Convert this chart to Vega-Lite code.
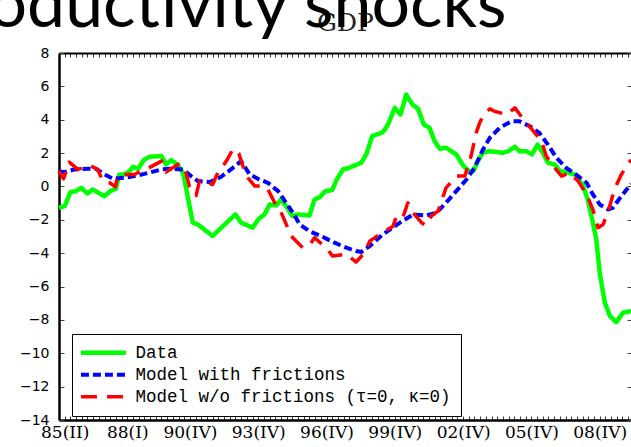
{
  "$schema": "https://vega.github.io/schema/vega-lite/v6.json",
  "autosize": {"type": "none"},
  "padding": {"left": 59, "top": 53, "right": 0, "bottom": 27},
  "width": 572,
  "height": 367,
  "background": "white",
  "title": {"text": "Productivity shocks", "font": "Lato", "fontSize": 68, "fontWeight": "normal", "color": "black", "anchor": "start", "frame": "group", "dx": -134, "dy": 30, "offset": 0},
  "config": {"view": {"stroke": null}, "axis": {"grid": false}},
  "data": {"values": [
    {"s":"Data","t":0,"v":-1.28},{"s":"Data","t":1,"v":-1.18},{"s":"Data","t":2,"v":-0.34},{"s":"Data","t":3,"v":-0.28},{"s":"Data","t":3.9,"v":-0.08},{"s":"Data","t":5,"v":-0.42},{"s":"Data","t":5.9,"v":-0.18},{"s":"Data","t":6.9,"v":-0.38},{"s":"Data","t":8,"v":-0.58},{"s":"Data","t":9,"v":-0.28},{"s":"Data","t":10,"v":-0.14},{"s":"Data","t":10.6,"v":0.72},{"s":"Data","t":11.5,"v":0.72},{"s":"Data","t":12.4,"v":0.92},{"s":"Data","t":13,"v":1.18},{"s":"Data","t":13.9,"v":1.06},{"s":"Data","t":14.9,"v":1.58},{"s":"Data","t":15.9,"v":1.78},{"s":"Data","t":18,"v":1.82},{"s":"Data","t":18.8,"v":1.32},{"s":"Data","t":19.7,"v":1.58},{"s":"Data","t":20.8,"v":1.32},{"s":"Data","t":21.8,"v":0.82},{"s":"Data","t":22.6,"v":-0.58},{"s":"Data","t":23.5,"v":-2.17},{"s":"Data","t":24.4,"v":-2.28},{"s":"Data","t":27,"v":-2.97},{"s":"Data","t":29.1,"v":-2.28},{"s":"Data","t":31,"v":-1.68},{"s":"Data","t":32,"v":-2.17},{"s":"Data","t":34,"v":-2.47},{"s":"Data","t":35.1,"v":-1.94},{"s":"Data","t":36.1,"v":-1.68},{"s":"Data","t":37,"v":-1.08},{"s":"Data","t":38.2,"v":-1.14},{"s":"Data","t":39,"v":-0.78},{"s":"Data","t":40,"v":-1.22},{"s":"Data","t":41,"v":-1.78},{"s":"Data","t":42,"v":-1.68},{"s":"Data","t":44,"v":-1.74},{"s":"Data","t":44.9,"v":-0.78},{"s":"Data","t":45.9,"v":-0.62},{"s":"Data","t":46.8,"v":-0.28},{"s":"Data","t":48,"v":-0.22},{"s":"Data","t":48.8,"v":0.42},{"s":"Data","t":49.9,"v":1.02},{"s":"Data","t":51,"v":1.12},{"s":"Data","t":53.1,"v":1.42},{"s":"Data","t":54,"v":1.92},{"s":"Data","t":55,"v":3.01},{"s":"Data","t":56.9,"v":3.25},{"s":"Data","t":57.8,"v":3.71},{"s":"Data","t":59,"v":4.71},{"s":"Data","t":60,"v":4.31},{"s":"Data","t":61,"v":5.51},{"s":"Data","t":62.1,"v":4.91},{"s":"Data","t":63.1,"v":4.65},{"s":"Data","t":64.1,"v":3.71},{"s":"Data","t":65.1,"v":3.51},{"s":"Data","t":66,"v":2.71},{"s":"Data","t":66.9,"v":2.26},{"s":"Data","t":68,"v":2.32},{"s":"Data","t":69.8,"v":1.92},{"s":"Data","t":71,"v":1.26},{"s":"Data","t":72,"v":0.92},{"s":"Data","t":72.8,"v":0.92},{"s":"Data","t":73.6,"v":1.52},{"s":"Data","t":74.5,"v":2.05},{"s":"Data","t":75.7,"v":2.11},{"s":"Data","t":78,"v":2.02},{"s":"Data","t":78.9,"v":2.11},{"s":"Data","t":80.1,"v":2.38},{"s":"Data","t":80.9,"v":2.11},{"s":"Data","t":82.1,"v":2.11},{"s":"Data","t":83.1,"v":1.92},{"s":"Data","t":84.1,"v":2.51},{"s":"Data","t":85,"v":2.02},{"s":"Data","t":85.9,"v":1.42},{"s":"Data","t":87.1,"v":1.32},{"s":"Data","t":88,"v":0.92},{"s":"Data","t":89.7,"v":0.82},{"s":"Data","t":90.9,"v":0.66},{"s":"Data","t":92.1,"v":0.02},{"s":"Data","t":92.9,"v":-0.78},{"s":"Data","t":93.8,"v":-2.17},{"s":"Data","t":94.4,"v":-3.17},{"s":"Data","t":95,"v":-5.17},{"s":"Data","t":95.9,"v":-6.96},{"s":"Data","t":96.8,"v":-7.77},{"s":"Data","t":97.9,"v":-8.13},{"s":"Data","t":99.1,"v":-7.57},{"s":"Data","t":100.5,"v":-7.47},
    {"s":"Model with frictions","t":0,"v":0.92},{"s":"Model with frictions","t":1,"v":0.86},{"s":"Model with frictions","t":2.7,"v":1.02},{"s":"Model with frictions","t":5.1,"v":1.06},{"s":"Model with frictions","t":6.5,"v":1.06},{"s":"Model with frictions","t":8,"v":0.72},{"s":"Model with frictions","t":9.5,"v":0.46},{"s":"Model with frictions","t":11.5,"v":0.52},{"s":"Model with frictions","t":13.9,"v":0.66},{"s":"Model with frictions","t":16.2,"v":0.86},{"s":"Model with frictions","t":18,"v":1.02},{"s":"Model with frictions","t":19.7,"v":1.06},{"s":"Model with frictions","t":21.8,"v":1.02},{"s":"Model with frictions","t":23.2,"v":0.62},{"s":"Model with frictions","t":24.4,"v":0.32},{"s":"Model with frictions","t":26.5,"v":0.26},{"s":"Model with frictions","t":28.5,"v":0.58},{"s":"Model with frictions","t":30.5,"v":1.1},{"s":"Model with frictions","t":32,"v":1.52},{"s":"Model with frictions","t":33.5,"v":0.72},{"s":"Model with frictions","t":35.2,"v":0.42},{"s":"Model with frictions","t":36.7,"v":0.22},{"s":"Model with frictions","t":38.5,"v":-0.28},{"s":"Model with frictions","t":39.7,"v":-0.88},{"s":"Model with frictions","t":41.1,"v":-1.58},{"s":"Model with frictions","t":42.3,"v":-2.28},{"s":"Model with frictions","t":44,"v":-2.68},{"s":"Model with frictions","t":46,"v":-2.97},{"s":"Model with frictions","t":48.4,"v":-3.37},{"s":"Model with frictions","t":50.5,"v":-3.67},{"s":"Model with frictions","t":52.2,"v":-3.87},{"s":"Model with frictions","t":53.1,"v":-3.93},{"s":"Model with frictions","t":54.6,"v":-3.57},{"s":"Model with frictions","t":56.9,"v":-2.87},{"s":"Model with frictions","t":59.9,"v":-2.17},{"s":"Model with frictions","t":62.2,"v":-1.68},{"s":"Model with frictions","t":64.5,"v":-1.74},{"s":"Model with frictions","t":66.3,"v":-1.58},{"s":"Model with frictions","t":68,"v":-0.98},{"s":"Model with frictions","t":69.8,"v":-0.28},{"s":"Model with frictions","t":71.6,"v":0.42},{"s":"Model with frictions","t":73,"v":1.12},{"s":"Model with frictions","t":74.5,"v":2.22},{"s":"Model with frictions","t":75.7,"v":2.92},{"s":"Model with frictions","t":77.4,"v":3.51},{"s":"Model with frictions","t":79.5,"v":3.91},{"s":"Model with frictions","t":80.9,"v":3.91},{"s":"Model with frictions","t":82.7,"v":3.61},{"s":"Model with frictions","t":84.4,"v":3.21},{"s":"Model with frictions","t":85.9,"v":2.51},{"s":"Model with frictions","t":87.4,"v":1.72},{"s":"Model with frictions","t":89.1,"v":1.12},{"s":"Model with frictions","t":91.2,"v":0.62},{"s":"Model with frictions","t":92.7,"v":0.22},{"s":"Model with frictions","t":93.8,"v":-0.48},{"s":"Model with frictions","t":95,"v":-1.08},{"s":"Model with frictions","t":96.5,"v":-1.38},{"s":"Model with frictions","t":97.3,"v":-1.28},{"s":"Model with frictions","t":98.8,"v":-0.58},{"s":"Model with frictions","t":100.5,"v":0.15},
    {"s":"Model w/o frictions (τ=0, κ=0)","t":0,"v":0.92},{"s":"Model w/o frictions (τ=0, κ=0)","t":0.8,"v":0.46},{"s":"Model w/o frictions (τ=0, κ=0)","t":1.8,"v":1.46},{"s":"Model w/o frictions (τ=0, κ=0)","t":3.3,"v":1.02},{"s":"Model w/o frictions (τ=0, κ=0)","t":5.4,"v":1.26},{"s":"Model w/o frictions (τ=0, κ=0)","t":6.8,"v":1.02},{"s":"Model w/o frictions (τ=0, κ=0)","t":7.7,"v":0.32},{"s":"Model w/o frictions (τ=0, κ=0)","t":8.9,"v":0.22},{"s":"Model w/o frictions (τ=0, κ=0)","t":9.9,"v":-0.02},{"s":"Model w/o frictions (τ=0, κ=0)","t":10.3,"v":0.62},{"s":"Model w/o frictions (τ=0, κ=0)","t":11.8,"v":0.72},{"s":"Model w/o frictions (τ=0, κ=0)","t":13.3,"v":0.72},{"s":"Model w/o frictions (τ=0, κ=0)","t":14.3,"v":0.92},{"s":"Model w/o frictions (τ=0, κ=0)","t":15.3,"v":1.02},{"s":"Model w/o frictions (τ=0, κ=0)","t":18,"v":1.52},{"s":"Model w/o frictions (τ=0, κ=0)","t":18.8,"v":0.86},{"s":"Model w/o frictions (τ=0, κ=0)","t":20.9,"v":1.32},{"s":"Model w/o frictions (τ=0, κ=0)","t":22.1,"v":1.12},{"s":"Model w/o frictions (τ=0, κ=0)","t":22.9,"v":0.02},{"s":"Model w/o frictions (τ=0, κ=0)","t":24.1,"v":-0.54},{"s":"Model w/o frictions (τ=0, κ=0)","t":24.7,"v":0.36},{"s":"Model w/o frictions (τ=0, κ=0)","t":27,"v":0.12},{"s":"Model w/o frictions (τ=0, κ=0)","t":27.9,"v":0.82},{"s":"Model w/o frictions (τ=0, κ=0)","t":29.4,"v":1.52},{"s":"Model w/o frictions (τ=0, κ=0)","t":30.6,"v":2.26},{"s":"Model w/o frictions (τ=0, κ=0)","t":31.6,"v":1.98},{"s":"Model w/o frictions (τ=0, κ=0)","t":32.3,"v":1.22},{"s":"Model w/o frictions (τ=0, κ=0)","t":33.2,"v":0.52},{"s":"Model w/o frictions (τ=0, κ=0)","t":34.4,"v":0.02},{"s":"Model w/o frictions (τ=0, κ=0)","t":36.1,"v":0.02},{"s":"Model w/o frictions (τ=0, κ=0)","t":36.7,"v":-0.18},{"s":"Model w/o frictions (τ=0, κ=0)","t":37.9,"v":-0.98},{"s":"Model w/o frictions (τ=0, κ=0)","t":38.8,"v":-1.38},{"s":"Model w/o frictions (τ=0, κ=0)","t":39.8,"v":-2.17},{"s":"Model w/o frictions (τ=0, κ=0)","t":40.8,"v":-2.97},{"s":"Model w/o frictions (τ=0, κ=0)","t":42.8,"v":-3.67},{"s":"Model w/o frictions (τ=0, κ=0)","t":44,"v":-3.53},{"s":"Model w/o frictions (τ=0, κ=0)","t":44.9,"v":-3.07},{"s":"Model w/o frictions (τ=0, κ=0)","t":46.9,"v":-3.67},{"s":"Model w/o frictions (τ=0, κ=0)","t":48.1,"v":-4.17},{"s":"Model w/o frictions (τ=0, κ=0)","t":50.5,"v":-4.07},{"s":"Model w/o frictions (τ=0, κ=0)","t":52.2,"v":-4.53},{"s":"Model w/o frictions (τ=0, κ=0)","t":53.7,"v":-3.97},{"s":"Model w/o frictions (τ=0, κ=0)","t":54.6,"v":-3.28},{"s":"Model w/o frictions (τ=0, κ=0)","t":56.6,"v":-2.81},{"s":"Model w/o frictions (τ=0, κ=0)","t":58.7,"v":-2.38},{"s":"Model w/o frictions (τ=0, κ=0)","t":59.3,"v":-1.78},{"s":"Model w/o frictions (τ=0, κ=0)","t":60.4,"v":-1.87},{"s":"Model w/o frictions (τ=0, κ=0)","t":61.3,"v":-0.98},{"s":"Model w/o frictions (τ=0, κ=0)","t":62.2,"v":-1.58},{"s":"Model w/o frictions (τ=0, κ=0)","t":63.7,"v":-2.17},{"s":"Model w/o frictions (τ=0, κ=0)","t":64.5,"v":-2.34},{"s":"Model w/o frictions (τ=0, κ=0)","t":65.4,"v":-1.78},{"s":"Model w/o frictions (τ=0, κ=0)","t":66.6,"v":-1.48},{"s":"Model w/o frictions (τ=0, κ=0)","t":68,"v":-0.08},{"s":"Model w/o frictions (τ=0, κ=0)","t":69.8,"v":0.62},{"s":"Model w/o frictions (τ=0, κ=0)","t":71.3,"v":0.62},{"s":"Model w/o frictions (τ=0, κ=0)","t":72.4,"v":1.82},{"s":"Model w/o frictions (τ=0, κ=0)","t":73.3,"v":3.21},{"s":"Model w/o frictions (τ=0, κ=0)","t":73.9,"v":3.81},{"s":"Model w/o frictions (τ=0, κ=0)","t":74.8,"v":4.41},{"s":"Model w/o frictions (τ=0, κ=0)","t":75.7,"v":4.65},{"s":"Model w/o frictions (τ=0, κ=0)","t":76.5,"v":4.51},{"s":"Model w/o frictions (τ=0, κ=0)","t":78.6,"v":4.31},{"s":"Model w/o frictions (τ=0, κ=0)","t":80.1,"v":4.71},{"s":"Model w/o frictions (τ=0, κ=0)","t":81.2,"v":4.21},{"s":"Model w/o frictions (τ=0, κ=0)","t":82.4,"v":3.71},{"s":"Model w/o frictions (τ=0, κ=0)","t":83.6,"v":3.21},{"s":"Model w/o frictions (τ=0, κ=0)","t":84.8,"v":2.71},{"s":"Model w/o frictions (τ=0, κ=0)","t":85.6,"v":1.82},{"s":"Model w/o frictions (τ=0, κ=0)","t":87.1,"v":1.12},{"s":"Model w/o frictions (τ=0, κ=0)","t":88.3,"v":0.62},{"s":"Model w/o frictions (τ=0, κ=0)","t":89.7,"v":0.82},{"s":"Model w/o frictions (τ=0, κ=0)","t":91.2,"v":0.32},{"s":"Model w/o frictions (τ=0, κ=0)","t":92.7,"v":-0.48},{"s":"Model w/o frictions (τ=0, κ=0)","t":93.8,"v":-1.38},{"s":"Model w/o frictions (τ=0, κ=0)","t":94.7,"v":-2.47},{"s":"Model w/o frictions (τ=0, κ=0)","t":95.6,"v":-2.28},{"s":"Model w/o frictions (τ=0, κ=0)","t":96.5,"v":-1.48},{"s":"Model w/o frictions (τ=0, κ=0)","t":97.6,"v":-0.18},{"s":"Model w/o frictions (τ=0, κ=0)","t":98.8,"v":0.72},{"s":"Model w/o frictions (τ=0, κ=0)","t":100.5,"v":1.6}
  ]},
  "layer": [
    {
      "mark": {"type": "line", "strokeCap": "butt", "strokeJoin": "round"},
      "encoding": {
        "x": {"field": "t", "type": "quantitative", "scale": {"domain": [0, 100.5], "nice": false, "zero": false},
          "axis": {"orient": "bottom", "title": null, "tickCount": 101, "labelOverlap": false, "labelFlush": false, "tickSize": -4, "tickColor": "#333", "tickWidth": 1, "domainColor": "black", "domainWidth": 2.5, "labelFont": "DejaVu Serif", "labelFontSize": 17, "labelColor": "black", "labelPadding": 8,
            "labelExpr": "datum.value == 1 ? '85(II)' : datum.value == 12 ? '88(I)' : datum.value == 23 ? '90(IV)' : datum.value == 35 ? '93(IV)' : datum.value == 47 ? '96(IV)' : datum.value == 59 ? '99(IV)' : datum.value == 71 ? '02(IV)' : datum.value == 83 ? '05(IV)' : datum.value == 95 ? '08(IV)' : ''"}},
        "y": {"field": "v", "type": "quantitative", "scale": {"domain": [-14, 8], "nice": false, "zero": false},
          "axis": {"orient": "left", "title": null, "values": [-14, -12, -10, -8, -6, -4, -2, 0, 2, 4, 6, 8], "tickSize": -5, "tickColor": "#444", "domainColor": "black", "domainWidth": 2.5, "labelFont": "DejaVu Sans", "labelFontSize": 14, "labelColor": "black", "labelPadding": 15, "labelFlush": false}},
        "color": {"field": "s", "type": "nominal", "sort": null, "scale": {"domain": ["Data", "Model with frictions", "Model w/o frictions (τ=0, κ=0)"], "range": ["#00ff00", "#0000ff", "#ff0000"]},
          "legend": {"orient": "none", "legendX": 13, "legendY": 281, "title": null, "strokeColor": "black", "fillColor": "white", "padding": 10, "symbolType": "M-1.96,0H7.04", "symbolSize": 100, "symbolStrokeWidth": 3.5, "labelFont": "Liberation Mono", "labelFontSize": 17.5, "labelColor": "black", "labelOffset": 36, "rowPadding": 3, "labelLimit": 600}},
        "strokeDash": {"field": "s", "type": "nominal", "sort": null, "scale": {"domain": ["Data", "Model with frictions", "Model w/o frictions (τ=0, κ=0)"], "range": [[1, 0], [8, 4], [16, 10]]},
          "legend": {"orient": "none", "legendX": 13, "legendY": 281, "title": null, "strokeColor": "black", "fillColor": "white", "padding": 10, "symbolType": "M-1.96,0H7.04", "symbolSize": 100, "symbolStrokeWidth": 3.5, "labelFont": "Liberation Mono", "labelFontSize": 17.5, "labelColor": "black", "labelOffset": 36, "rowPadding": 3, "labelLimit": 600}},
        "strokeWidth": {"field": "s", "type": "nominal", "sort": null, "scale": {"domain": ["Data", "Model with frictions", "Model w/o frictions (τ=0, κ=0)"], "range": [4.5, 3.5, 3.5]}, "legend": null}
      }
    },
    {
      "mark": {"type": "line", "opacity": 0},
      "encoding": {
        "x": {"field": "t", "type": "quantitative",
          "axis": {"orient": "top", "title": "GDP", "labels": false, "tickCount": 101, "tickSize": -4, "tickColor": "#333", "domainColor": "black", "domainWidth": 2, "titleFont": "DejaVu Serif", "titleFontSize": 25, "titleFontWeight": "normal", "titleColor": "#222", "titlePadding": 17}},
        "y": {"field": "v", "type": "quantitative",
          "axis": {"orient": "right", "title": null, "labels": false, "domain": false, "values": [-14, -12, -10, -8, -6, -4, -2, 0, 2, 4, 6, 8], "tickSize": -4, "tickColor": "#444"}},
        "detail": {"field": "s", "type": "nominal"}
      }
    }
  ],
  "resolve": {"axis": {"x": "independent", "y": "independent"}}
}
